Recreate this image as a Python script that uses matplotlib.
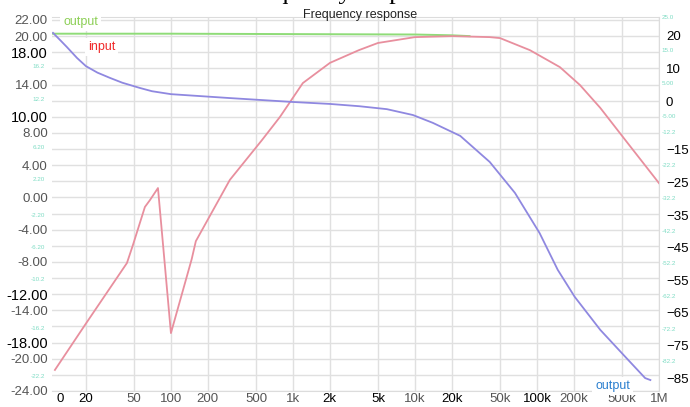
import matplotlib.pyplot as plt
import matplotlib.transforms as mtransforms
from matplotlib.ticker import FixedLocator, NullLocator

plt.rcParams['font.family'] = ['Liberation Sans', 'DejaVu Sans']

# x axis: frequency in Hz
x_ticks = [20, 50, 100, 200, 500, 1e3, 2e3, 5e3, 1e4, 2e4, 5e4, 1e5, 2e5, 5e5, 1e6]
x_labels = ['20', '50', '100', '200', '500', '1k', '2k', '5k', '10k', '20k',
            '50k', '100k', '200k', '500k', '1M']
x_dark = ['20', '2k', '5k', '20k', '100k']

# left axis labels (grid every 2)
left_ticks = list(range(-24, 23, 2))
left_labels = {22: '22.00', 20: '20.00', 18: '18.00', 14: '14.00', 10: '10.00',
               8: '8.00', 4: '4.00', 0: '0.00', -4: '-4.00', -8: '-8.00',
               -12: '-12.00', -14: '-14.00', -18: '-18.00', -20: '-20.00',
               -24: '-24.00'}
left_dark = [18, 10, -12, -18]

# right axis labels (dB)
right_ticks = [20, 10, 0, -15, -25, -35, -45, -55, -65, -75, -85]

# faint leftover labels of hidden axes
ghost_left_vals = [16.2, 12.2, 6.2, 2.2, -2.2, -6.2, -10.2, -16.2, -22.2]
ghost_left_txt = ['16.2', '12.2', '6.20', '2.20', '-2.20', '-6.20', '-10.2', '-16.2', '-22.2']
ghost_right_vals = [25.5, 15.6, 5.5, -4.9, -9.8, -19.9, -30, -40, -50, -60, -70, -80]
ghost_right_txt = ['25.0', '15.0', '5.00', '-5.00', '-12.2', '-22.2', '-32.2',
                   '-42.2', '-52.2', '-62.2', '-72.2', '-82.2']

# input curve (right axis, dB)
input_f = [11.2, 20, 43.6, 48.8, 61.2, 67.3, 78.3, 100, 148, 160, 304, 557, 782,
           1205, 2010, 3470, 4970, 10000, 20300, 41000, 49800, 87500, 154000,
           225000, 330000, 530000, 1e6]
input_db = [-82.5, -68.4, -49.7, -44.2, -32.5, -30.4, -26.7, -71.2, -48.5, -43.0,
            -24.2, -12.0, -4.9, 5.5, 11.7, 15.6, 17.8, 19.6, 19.9, 19.6, 19.3,
            15.6, 10.4, 4.9, -2.1, -12.0, -25.2]

# output curve (right axis, dB)
output_f = [10.8, 12.5, 14.0, 17.0, 20.1, 25.0, 31.6, 40.0, 55.7, 70.0, 100, 304,
            1000, 2010, 3500, 5880, 9620, 14000, 23500, 41000, 66000, 105000,
            148000, 204000, 330000, 530000, 770000, 850000]
output_db = [20.9, 18.5, 16.6, 13.2, 10.7, 8.7, 7.1, 5.6, 4.0, 3.0, 2.1, 0.9,
             -0.3, -0.9, -1.6, -2.5, -4.3, -6.7, -10.7, -18.7, -28.2, -40.5,
             -51.8, -60.1, -70.2, -78.5, -85.0, -85.6]

# flat output (left axis)
flat_f = [10.6, 100, 1000, 10000, 20000, 28000]
flat_v = [20.3, 20.3, 20.25, 20.2, 20.1, 20.0]

fig = plt.figure(figsize=(6.9, 4.07), dpi=100)
ax = fig.add_axes([52 / 690, 1 - 391 / 407, 607 / 690, 374 / 407])
ax.set_xscale('log')
ax.set_xlim(10.6, 1e6)
ax.set_ylim(-24, 22.37)
ax.xaxis.set_major_locator(FixedLocator(x_ticks))
ax.xaxis.set_minor_locator(NullLocator())
ax.set_xticklabels(x_labels)
ax.yaxis.set_major_locator(FixedLocator(left_ticks))
ax.set_yticklabels([left_labels.get(v, '') for v in left_ticks])
ax.grid(True, color='#e0e0e0', lw=1.0)
ax.tick_params(axis='both', length=0)
ax.tick_params(axis='y', pad=3)
ax.tick_params(axis='x', pad=1.5, labelsize=9.5)
for lab, v in zip(ax.get_yticklabels(), left_ticks):
    if v in left_dark:
        lab.set_color('black')
        lab.set_fontsize(10.5)
    else:
        lab.set_color('#555555')
        lab.set_fontsize(9.5)
for lab in ax.get_xticklabels():
    lab.set_color('black' if lab.get_text() in x_dark else '#555555')
for s in ax.spines.values():
    s.set_color('#dcdcdc')
ax.spines['left'].set_visible(False)

ax.plot(flat_f, flat_v, color='#8fdc78', lw=1.4)

ax2 = ax.twinx()
ax2.set_ylim(-88.96, 25.77)
ax2.yaxis.set_major_locator(FixedLocator(right_ticks))
ax2.tick_params(axis='y', length=0, pad=5, labelsize=9.5, labelcolor='black')
for s in ax2.spines.values():
    s.set_visible(False)
ax2.plot(input_f, input_db, color='#e88f9e', lw=1.3)
ax2.plot(output_f, output_db, color='#8f88e0', lw=1.3)

# faint ghost labels
tl = mtransforms.blended_transform_factory(ax.transAxes, ax.transData)
for v, t in zip(ghost_left_vals, ghost_left_txt):
    ax.text(-0.012, v, t, transform=tl, ha='right', va='center', fontsize=4.5,
            color='#7fdcc4', clip_on=False)
tr = mtransforms.blended_transform_factory(ax2.transAxes, ax2.transData)
for v, t in zip(ghost_right_vals, ghost_right_txt):
    ax2.text(1.004, v, t, transform=tr, ha='left', va='center', fontsize=4.5,
             color='#7fdcc4', clip_on=False)

# x "0" label at the left edge
tx = mtransforms.blended_transform_factory(ax.transData, ax.transAxes)
ax.text(12.3, -0.006, '0', transform=tx, ha='center', va='top', fontsize=9.5,
        color='black', clip_on=False)

# series labels
ax2.text(63 / 690, 1 - 22 / 407, 'output', transform=fig.transFigure, ha='left',
         va='center', fontsize=9, color='#8ccf55',
         bbox=dict(facecolor='white', edgecolor='none', pad=2))
ax2.text(88 / 690, 1 - 47 / 407, 'input', transform=fig.transFigure, ha='left',
         va='center', fontsize=9, color='#f02828',
         bbox=dict(facecolor='white', edgecolor='none', pad=2))
ax2.text(595 / 690, 1 - 386 / 407, 'output', transform=fig.transFigure, ha='left',
         va='center', fontsize=9, color='#2a7fcf',
         bbox=dict(facecolor='white', edgecolor='none', pad=2))

fig.text(360 / 690, 1 - 15 / 407, 'Frequency response', ha='center', va='center',
         fontsize=9, color='#222222')
fig.text(345 / 690, 1 + 1 / 407, 'Frequency response', ha='center', va='baseline',
         fontsize=19, family='Liberation Serif', color='black')

fig.savefig('out.png', dpi=100)
